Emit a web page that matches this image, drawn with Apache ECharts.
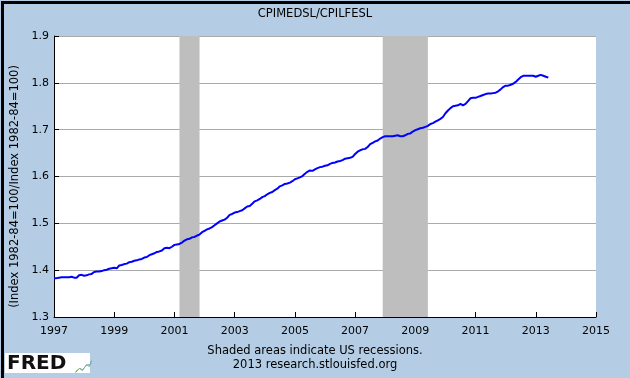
<!DOCTYPE html>
<html>
<head>
<meta charset="utf-8">
<script src="https://cdn.jsdelivr.net/npm/echarts@6/dist/echarts.min.js"></script>
<style>
  html, body { margin: 0; padding: 0; background: #b4cde4; }
  #chart { width: 630px; height: 378px; }
</style>
</head>
<body>
<div id="chart"></div>
<script>
// monthly ratio CPIMEDSL / CPILFESL, starting 1997-01
var startYear = 1997;
var ratio = [
  1.383, 1.383, 1.384, 1.385, 1.385, 1.385, 1.385, 1.386, 1.384, 1.384, 1.389, 1.390,
  1.388, 1.389, 1.391, 1.392, 1.396, 1.397, 1.397, 1.398, 1.400, 1.401, 1.403, 1.404,
  1.405, 1.404, 1.410, 1.411, 1.413, 1.414, 1.417, 1.418, 1.420, 1.421, 1.423, 1.424,
  1.427, 1.428, 1.432, 1.434, 1.436, 1.439, 1.440, 1.442, 1.447, 1.448, 1.447, 1.450,
  1.454, 1.455, 1.456, 1.459, 1.463, 1.466, 1.467, 1.470, 1.471, 1.474, 1.476, 1.481,
  1.484, 1.487, 1.489, 1.492, 1.496, 1.500, 1.504, 1.506, 1.508, 1.512, 1.518, 1.520,
  1.523, 1.524, 1.526, 1.528, 1.532, 1.536, 1.537, 1.542, 1.547, 1.549, 1.552, 1.556,
  1.558, 1.562, 1.565, 1.567, 1.571, 1.574, 1.579, 1.581, 1.584, 1.585, 1.587, 1.590,
  1.594, 1.596, 1.598, 1.601, 1.606, 1.610, 1.613, 1.612, 1.615, 1.618, 1.620, 1.621,
  1.623, 1.624, 1.627, 1.629, 1.630, 1.632, 1.633, 1.635, 1.638, 1.639, 1.640, 1.642,
  1.648, 1.653, 1.656, 1.658, 1.659, 1.663, 1.669, 1.672, 1.675, 1.677, 1.681, 1.684,
  1.686, 1.686, 1.686, 1.686, 1.687, 1.688, 1.686, 1.686, 1.688, 1.691, 1.692, 1.696,
  1.699, 1.701, 1.703, 1.704, 1.706, 1.708, 1.712, 1.714, 1.717, 1.720, 1.723, 1.727,
  1.735, 1.741, 1.746, 1.750, 1.751, 1.752, 1.755, 1.752, 1.755, 1.761, 1.767, 1.768,
  1.768, 1.770, 1.772, 1.774, 1.776, 1.777, 1.777, 1.778, 1.779, 1.782, 1.786, 1.791,
  1.794, 1.794, 1.796, 1.798, 1.802, 1.807, 1.812, 1.815, 1.815, 1.815, 1.815, 1.815,
  1.813, 1.815, 1.817, 1.815, 1.813, 1.811
];
// recessions as [start, end] in fractional years
var recessions = [
  [2001 + 2 / 12, 2001 + 10 / 12],
  [2007 + 11 / 12, 2009 + 5 / 12]
];
var yTicks = ['1.3', '1.4', '1.5', '1.6', '1.7', '1.8', '1.9'];
var xTicks = [1997, 1999, 2001, 2003, 2005, 2007, 2009, 2011, 2013, 2015];

var seriesData = ratio.map(function (v, i) {
  return [startYear + i / 12, v];
});

var font = 'DejaVu Sans, Verdana, sans-serif';
var chart = echarts.init(document.getElementById('chart'));

chart.setOption({
  backgroundColor: '#b4cde4',
  animation: false,
  title: {
    text: 'CPIMEDSL/CPILFESL',
    left: 'center',
    top: 3,
    textStyle: { fontFamily: font, fontSize: 11.5, fontWeight: 'normal', color: '#000' }
  },
  grid: { left: 54, right: 34, top: 36, bottom: 61, show: true, backgroundColor: '#fff', borderWidth: 0 },
  xAxis: {
    type: 'value',
    min: xTicks[0],
    max: xTicks[xTicks.length - 1],
    interval: 2,
    axisLine: { show: true, lineStyle: { color: '#000', width: 1 } },
    axisTick: { show: true, inside: true, length: 5, lineStyle: { color: '#000' } },
    axisLabel: { margin: 9, color: '#000', fontFamily: font, fontSize: 11, formatter: function (v) { return String(v); } },
    splitLine: { show: false }
  },
  yAxis: {
    type: 'value',
    min: Number(yTicks[0]),
    max: Number(yTicks[yTicks.length - 1]),
    interval: 0.1,
    name: '(Index 1982-84=100/Index 1982-84=100)',
    nameLocation: 'middle',
    nameGap: 33,
    nameTextStyle: { fontFamily: font, fontSize: 11.5, color: '#000', padding: [0, 20, 0, 0] },
    axisLine: { show: true, lineStyle: { color: '#000', width: 1 } },
    axisTick: { show: true, inside: true, length: 5, lineStyle: { color: '#000' } },
    axisLabel: { margin: 5, color: '#000', fontFamily: font, fontSize: 11, formatter: function (v) { return v.toFixed(1); } },
    splitLine: { show: true, lineStyle: { color: '#aaaaaa', width: 1 } }
  },
  series: [{
    type: 'line',
    data: seriesData,
    showSymbol: false,
    lineStyle: { color: '#0000ff', width: 2 },
    markArea: {
      silent: true,
      itemStyle: { color: '#bebebe' },
      data: recessions.map(function (r) { return [{ xAxis: r[0] }, { xAxis: r[1] }]; })
    },
    z: 3
  }],
  graphic: [
    {
      type: 'text', left: 'center', top: 344,
      style: { text: 'Shaded areas indicate US recessions.\n2013 research.stlouisfed.org', fill: '#000',
        font: '11.5px ' + font, textAlign: 'center', lineHeight: 14 }
    },
    { type: 'rect', left: 5, top: 353, shape: { width: 85, height: 20 }, style: { fill: '#fff' } },
    { type: 'text', left: 7, top: 354, style: { text: 'FRED', fill: '#111', font: 'bold 20px ' + font } },
    {
      type: 'polyline', left: 73, top: 358,
      shape: { points: [[0, 12], [4, 8], [7, 10], [11, 4], [14, 6], [16, 0]] },
      style: { stroke: '#6a9fc9', fill: null, lineWidth: 1 }
    },
    {
      type: 'polyline', left: 73, top: 361,
      shape: { points: [[0, 10], [4, 7], [7, 8], [11, 4], [16, 2]] },
      style: { stroke: '#7fbf4a', fill: null, lineWidth: 1 }
    },
    { type: 'rect', left: 0, top: 0, shape: { width: 630, height: 378 }, style: { fill: null, stroke: '#000', lineWidth: 3 } }
  ]
});
</script>
</body>
</html>
